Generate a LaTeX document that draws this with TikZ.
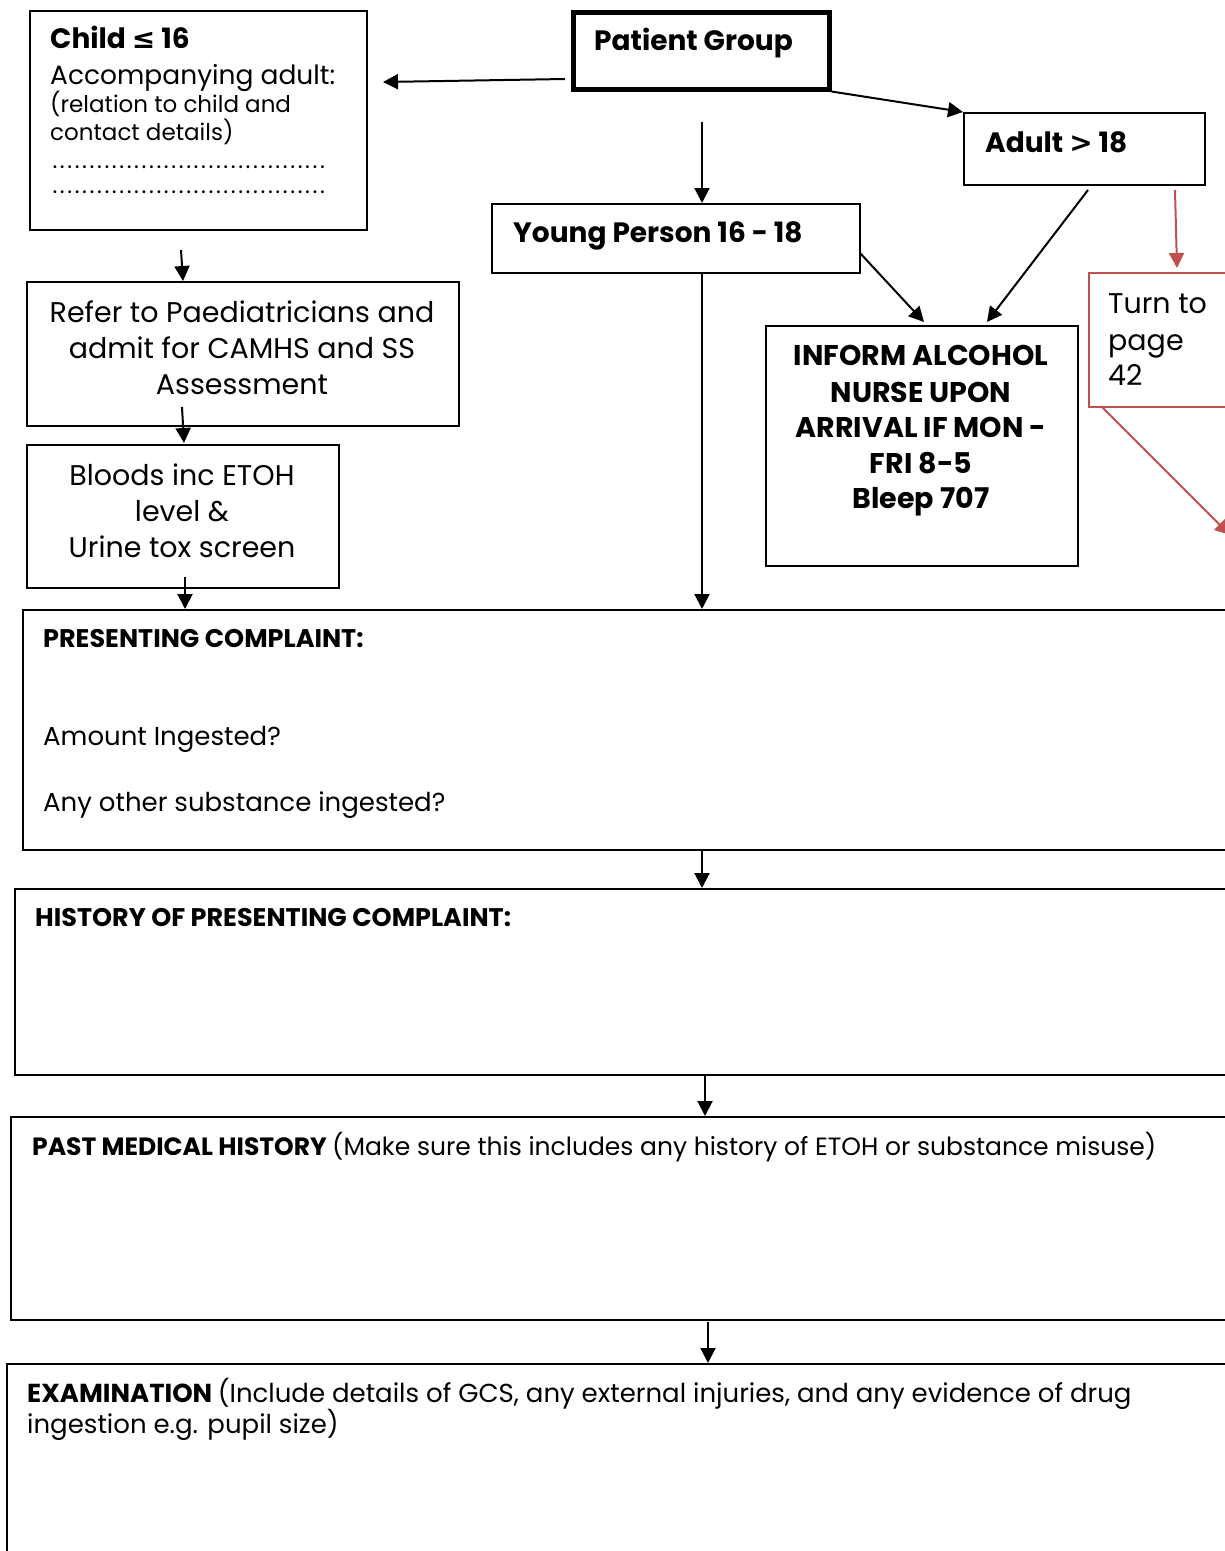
\documentclass[tikz,border=0pt]{standalone}
\usepackage{fontspec}
\setmainfont{Poppins}
\newfontfamily\symfont{DejaVu Sans}
\usetikzlibrary{arrows.meta}
\definecolor{redline}{HTML}{C0504D}
\newcommand\dotrow{\hbox to 275pt{\xleaders\hbox to 7.43pt{\hss.\hss}\hfill}}
\begin{document}
\begin{tikzpicture}[x=1pt,y=-1pt,
 box/.style={draw, line width=1.7pt, rectangle, inner sep=0pt, anchor=north west},
 arr/.style={line width=2pt, -{Triangle[length=15pt,width=15pt]}},
 rarr/.style={arr, draw=redline, fill=redline, line width=2pt},
 txt/.style={inner sep=0pt, anchor=base west},
 ctxt/.style={inner sep=0pt, anchor=base},
 big/.style={font=\fontsize{28.5}{34}\selectfont},
 bigb/.style={font=\fontsize{28}{34}\selectfont\bfseries},
 infb/.style={font=\fontsize{28.5}{34}\selectfont\bfseries},
 sec/.style={font=\fontsize{26}{30}\selectfont},
 secb/.style={font=\fontsize{25.5}{30}\selectfont\bfseries},
 small/.style={font=\fontsize{23}{26}\selectfont}]
\useasboundingbox (0,0) rectangle (1225,1551);
\clip (0,0) rectangle (1225,1551);

% boxes
\node[box, minimum width=337pt, minimum height=219pt] (child) at (29,10) {};
\node[box, line width=4.5pt, minimum width=256pt, minimum height=77pt] (pg) at (571,10) {};
\node[box, minimum width=368pt, minimum height=69pt] (yp) at (491,203) {};
\node[box, minimum width=241pt, minimum height=72pt] (adult) at (963,112) {};
\node[box, draw=redline, minimum width=160pt, minimum height=134pt] (turn) at (1088,272) {};
\node[box, minimum width=312pt, minimum height=240pt] (inform) at (765,325) {};
\node[box, minimum width=432pt, minimum height=144pt] (refer) at (26,281) {};
\node[box, minimum width=312pt, minimum height=143pt] (bloods) at (26,444) {};
\node[box, minimum width=1230pt, minimum height=240pt] (pres) at (22,609) {};
\node[box, minimum width=1230pt, minimum height=186pt] (hist) at (14,888) {};
\node[box, minimum width=1230pt, minimum height=203pt] (pmh) at (10,1116) {};
\node[box, minimum width=1240pt, minimum height=220pt] (exam) at (6,1363) {};

% texts
\node[txt, bigb] (tchild) at (50,48) {Child {\symfont ≤} 16};
\node[txt, font=\fontsize{26.5}{30}\selectfont] (tacc) at (50,84) {Accompanying adult:};
\node[txt, small] (trel) at (50,112) {(relation to child and};
\node[txt, small] (tcon) at (50,140) {contact details)};
\node[txt, small] (tdota) at (51,168) {\dotrow};
\node[txt, small] (tdotb) at (51,193) {\dotrow};

\node[txt, bigb] (tpg) at (594,50) {Patient Group};
\node[txt, bigb] (typ) at (513,242) {Young Person 16 - 18};
\node[txt, bigb] (tad) at (985,152) {Adult {\symfont >} 18};

\node[txt, big] (tturna) at (1108,313) {Turn to};
\node[txt, big] (tturnb) at (1108,350) {page};
\node[txt, big] (tturnc) at (1108,385) {42};

\node[ctxt, infb] (tia) at (921,365) {INFORM ALCOHOL};
\node[ctxt, infb] (tib) at (921,402) {NURSE UPON};
\node[ctxt, infb] (tic) at (921,437) {ARRIVAL IF MON -};
\node[ctxt, infb] (tid) at (921,473) {FRI 8-5};
\node[ctxt, infb] (tie) at (921,508) {Bleep 707};

\node[ctxt, big] (tra) at (242,322) {Refer to Paediatricians and};
\node[ctxt, big] (trb) at (242,358) {admit for CAMHS and SS};
\node[ctxt, big] (trc) at (242,394) {Assessment};

\node[ctxt, big] (tba) at (182,485) {Bloods inc ETOH};
\node[ctxt, big] (tbb) at (182,521) {level \&};
\node[ctxt, big] (tbc) at (182,557) {Urine tox screen};

\node[txt, secb] (tpa) at (43,647) {PRESENTING COMPLAINT:};
\node[txt, sec] (tpb) at (43,745) {Amount Ingested?};
\node[txt, sec] (tpc) at (43,811) {Any other substance ingested?};

\node[txt, secb] (tha) at (35,926) {HISTORY OF PRESENTING COMPLAINT:};

\node[txt, font=\fontsize{25}{30}\selectfont] (tma) at (32,1155) {\bfseries PAST MEDICAL HISTORY \mdseries(Make sure this includes any history of ETOH or substance misuse)};

\node[txt, sec] (tea) at (27,1402) {\bfseries EXAMINATION \mdseries(Include details of GCS, any external injuries, and any evidence of drug};
\node[txt, sec] (teb) at (27,1433) {ingestion e.g. pupil size)};

% connector coordinates
\coordinate (s1) at (565,79);  \coordinate (e1) at (383,82);
\coordinate (s3) at (702,122);
\coordinate (s4) at (1088,190); \coordinate (e4) at (987,322);
\coordinate (s5) at (860,253);  \coordinate (e5) at (924,322);
\coordinate (s6) at (1175,190); \coordinate (e6) at (1177,268);
\coordinate (s7) at (1101,406); \coordinate (e7) at (1230,535);
\coordinate (s8) at (181,250);
\coordinate (s9) at (182,407);
\coordinate (s10) at (185,577);
\coordinate (s11) at (702,272);
\coordinate (s12) at (702,850);
\coordinate (s13) at (705,1076);
\coordinate (s14) at (708,1322);

% connectors
\draw[arr] (s1) -- (e1);
\draw[arr] (pg.south east) -- (adult.north west);
\draw[arr] (s3) -- (s3 |- yp.north);
\draw[arr] (s4) -- (e4);
\draw[arr] (s5) -- (e5);
\draw[rarr] (s6) -- (e6);
\draw[rarr] (s7) -- (e7);
\draw[arr] (s8) -- (183,281);
\draw[arr] (s9) -- (184,443);
\draw[arr] (s10) -- (s10 |- pres.north);
\draw[arr] (s11) -- (s11 |- pres.north);
\draw[arr] (s12) -- (s12 |- hist.north);
\draw[arr] (s13) -- (s13 |- pmh.north);
\draw[arr] (s14) -- (s14 |- exam.north);
\end{tikzpicture}
\end{document}
